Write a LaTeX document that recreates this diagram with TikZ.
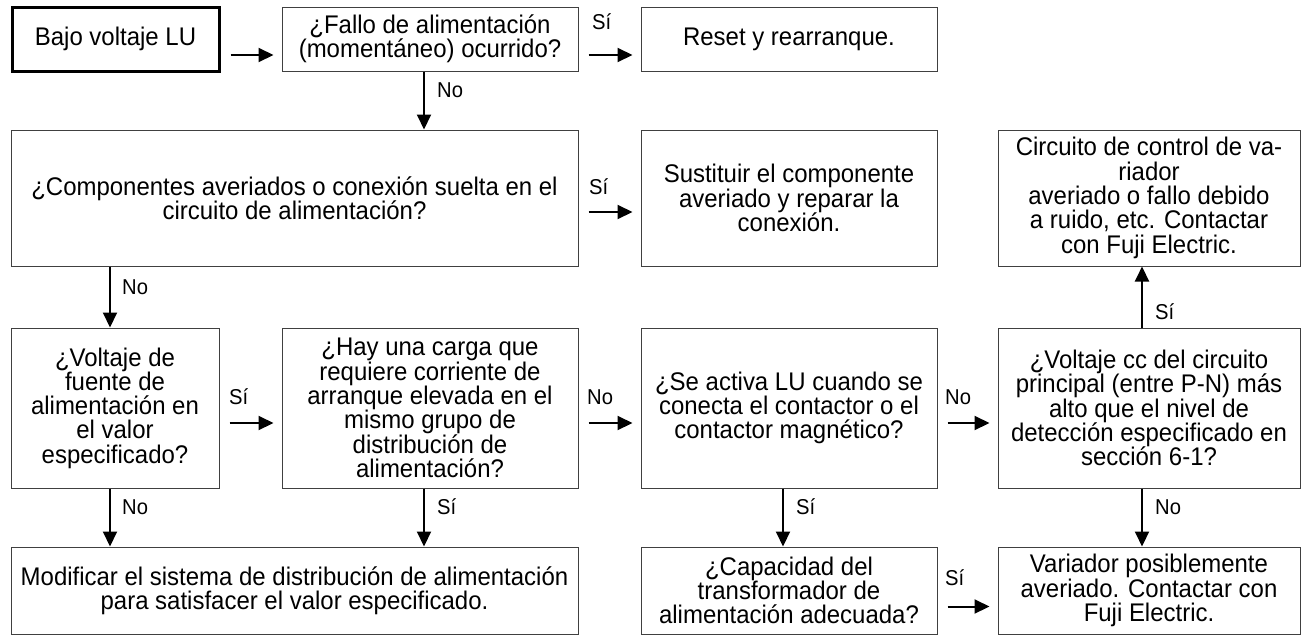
\documentclass[tikz,border=0pt]{standalone}
\usepackage{fontspec}
\setmainfont{Liberation Sans}[FakeStretch=0.94]
\usetikzlibrary{arrows.meta}
\begin{document}
\begin{tikzpicture}[x=1pt,y=-1pt,
  box/.style={draw=black!75, line width=1pt, align=center, inner sep=0pt, font=\fontsize{25.5}{24.3}\selectfont},
  startbox/.style={box, draw=black, line width=3pt},
  arr/.style={line width=2pt, -{Triangle[length=15pt,width=14pt]}},
  harr/.style={arr, shorten <=10pt, shorten >=8pt},
  lbl/.style={font=\fontsize{21.5}{22}\selectfont, inner sep=0pt, anchor=west}]
\useasboundingbox (0,0) rectangle (1308,635);
% row 1
\node[startbox, minimum width=207pt, minimum height=64pt] (b1) at (115.5,39) {Bajo voltaje LU};
\node[box, minimum width=296pt, minimum height=64pt] (b2) at (430,39) {¿Fallo de alimentación\\(momentáneo) ocurrido?};
\node[box, minimum width=296pt, minimum height=64pt] (b3) at (789,39) {Reset y rearranque.};
% row 2
\node[box, minimum width=567pt, minimum height=136pt] (b4) at (294.5,198) {¿Componentes averiados o conexión suelta en el\\circuito de alimentación?};
\node[box, minimum width=296pt, minimum height=136pt] (b5) at (789,198) {Sustituir el componente\\averiado y reparar la\\conexión.};
\node[box, minimum width=302pt, minimum height=136pt] (b6) at (1149,198) {Circuito de control de va-\\riador\\averiado o fallo debido\\a ruido, etc. Contactar\\con Fuji Electric.};
% row 3
\node[box, minimum width=208pt, minimum height=160pt] (b7) at (115,408) {¿Voltaje de\\fuente de\\alimentación en\\el valor\\especificado?};
\node[box, minimum width=296pt, minimum height=160pt] (b8) at (430,408) {¿Hay una carga que\\requiere corriente de\\arranque elevada en el\\mismo grupo de\\distribución de\\alimentación?};
\node[box, minimum width=296pt, minimum height=160pt] (b9) at (789,408) {¿Se activa LU cuando se\\conecta el contactor o el\\contactor magnético?};
\node[box, minimum width=302pt, minimum height=160pt] (b10) at (1149,408) {¿Voltaje cc del circuito\\principal (entre P-N) más\\alto que el nivel de\\detección especificado en\\sección 6-1?};
% row 4
\node[box, minimum width=567pt, minimum height=87pt] (b11) at (294.5,590.5) {Modificar el sistema de distribución de alimentación\\para satisfacer el valor especificado.};
\node[box, minimum width=296pt, minimum height=87pt] (b12) at (789,590.5) {¿Capacidad del\\transformador de\\alimentación adecuada?};
\node[box, minimum width=302pt, minimum height=87pt] (b13) at (1149,590.5) {Variador posiblemente\\averiado. Contactar con\\Fuji Electric.};
% horizontal connectors
\draw[harr] ([yshift=-16pt]b1.east) -- ([yshift=-16pt]b2.west);
\draw[harr] ([yshift=-16pt]b2.east) -- ([yshift=-16pt]b3.west);
\draw[harr] ([yshift=-14pt]b4.east) -- ([yshift=-14pt]b5.west);
\draw[harr] ([yshift=-15pt]b7.east) -- ([yshift=-15pt]b8.west);
\draw[harr] ([yshift=-15pt]b8.east) -- ([yshift=-15pt]b9.west);
\draw[harr] ([yshift=-15pt]b9.east) -- ([yshift=-15pt]b10.west);
\draw[harr] ([yshift=-16pt]b12.east) -- ([yshift=-16pt]b13.west);
% vertical connectors
\draw[arr] ([xshift=-6pt]b2.south) -- ([xshift=-6pt]b2.south |- b4.north);
\draw[arr] ([xshift=-5pt]b7.north |- b4.south) -- ([xshift=-5pt]b7.north);
\draw[arr] ([xshift=-5pt]b7.south) -- ([xshift=-5pt]b7.south |- b11.north);
\draw[arr] ([xshift=-6pt]b8.south) -- ([xshift=-6pt]b8.south |- b11.north);
\draw[arr] ([xshift=-6pt]b9.south) -- ([xshift=-6pt]b12.north);
\draw[arr] ([xshift=-7pt]b10.south) -- ([xshift=-7pt]b13.north);
\draw[arr] ([xshift=-7pt]b10.north) -- ([xshift=-7pt]b6.south);
% labels
\node[lbl] (l1) at (592,22) {Sí};
\node[lbl] (l2) at (589,187) {Sí};
\node[lbl] (l3) at (229,397) {Sí};
\node[lbl] (l4) at (587,397) {No};
\node[lbl] (l5) at (945,397) {No};
\node[lbl] (l6) at (945,578) {Sí};
\node[lbl] (l7) at (437,90) {No};
\node[lbl] (l8) at (122,287) {No};
\node[lbl] (l9) at (122,507) {No};
\node[lbl] (l10) at (437,507) {Sí};
\node[lbl] (l11) at (796,507) {Sí};
\node[lbl] (l12) at (1155,507) {No};
\node[lbl] (l13) at (1155,312) {Sí};
\end{tikzpicture}
\end{document}
